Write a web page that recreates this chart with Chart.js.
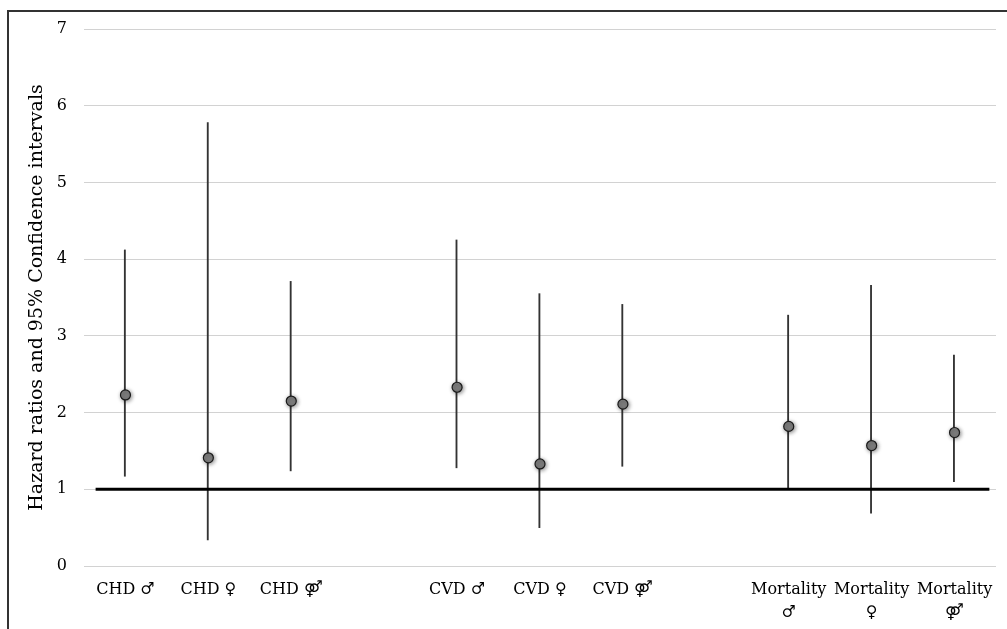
<!DOCTYPE html>
<html>
<head>
<meta charset="utf-8">
<script src="https://cdn.jsdelivr.net/npm/chart.js@4"></script>
<style>
  body { margin: 0; background: #fff; }
  #wrap { position: relative; width: 1007px; height: 629px; }
  #frame { position: absolute; left: 7px; top: 10px; right: 0; bottom: 0;
           border-left: 2px solid #333; border-top: 2px solid #333; }
  #myChart { position: absolute; left: 0; top: 0; }
</style>
</head>
<body>
<div id="wrap">
  <div id="frame"></div>
  <canvas id="myChart" width="1007" height="629"></canvas>
</div>
<script>
// Datos
const categories = ['CHD ♂', 'CHD ♀', 'CHD ⚤', '', 'CVD ♂', 'CVD ♀', 'CVD ⚤', '',
  ['Mortality', '♂'], ['Mortality', '♀'], ['Mortality', '⚤']];
const hazardRatios = [2.23, 1.41, 2.15, null, 2.33, 1.33, 2.11, null, 1.82, 1.57, 1.74];
const ciLower = [1.17, 0.34, 1.24, null, 1.28, 0.50, 1.30, null, 1.01, 0.69, 1.10];
const ciUpper = [4.12, 5.78, 3.71, null, 4.25, 3.55, 3.41, null, 3.27, 3.66, 2.75];
const refLineX = [-0.36, 10.42];
const refLineY = 1;

const serif = '"DejaVu Serif", "Liberation Serif", serif';

// Sombra para los puntos
const shadowPlugin = {
  id: 'pointShadow',
  beforeDatasetDraw(chart, args) {
    if (args.index !== 2) return;
    const ctx = chart.ctx;
    ctx.save();
    ctx.shadowColor = 'rgba(0,0,0,0.45)';
    ctx.shadowBlur = 4;
    ctx.shadowOffsetX = 1;
    ctx.shadowOffsetY = 1;
  },
  afterDatasetDraw(chart, args) {
    if (args.index !== 2) return;
    chart.ctx.restore();
  }
};

const config = {
  type: 'bar',
  data: {
    labels: categories,
    datasets: [
      {
        type: 'bar',
        label: 'CI',
        data: ciLower.map((l, i) => l === null ? null : [l, ciUpper[i]]),
        backgroundColor: '#333',
        borderWidth: 0,
        barThickness: 1.2,
        order: 3
      },
      {
        type: 'line',
        label: 'ref',
        xAxisID: 'x2',
        data: refLineX.map(x => ({ x: x, y: refLineY })),
        borderColor: '#000',
        borderWidth: 3,
        pointRadius: 0,
        order: 2
      },
      {
        type: 'line',
        label: 'HR',
        data: hazardRatios,
        showLine: false,
        pointRadius: 5,
        pointBackgroundColor: '#808080',
        pointBorderColor: '#1a1a1a',
        pointBorderWidth: 1.2,
        order: 1
      }
    ]
  },
  options: {
    responsive: false,
    animation: false,
    layout: { padding: { left: 8, top: 29, right: 11, bottom: 3 } },
    plugins: { legend: { display: false }, tooltip: { enabled: false } },
    scales: {
      x: {
        type: 'category',
        offset: true,
        grid: { display: false },
        border: { display: false },
        ticks: {
          color: '#000', font: { family: serif, size: 16, lineHeight: 1.45 },
          maxRotation: 0, autoSkip: false, padding: 4
        },
        afterFit: (s) => { s.height = 60; }
      },
      x2: {
        type: 'linear', display: false, offset: false, min: -0.5, max: 10.5
      },
      y: {
        min: 0, max: 7,
        grid: { color: '#d2d2d2', drawTicks: false },
        border: { display: false },
        ticks: { stepSize: 1, color: '#000', font: { family: serif, size: 16 }, padding: 17 },
        title: {
          display: true,
          text: 'Hazard ratios and 95% Confidence intervals',
          color: '#000',
          font: { family: serif, size: 19 },
          padding: { top: 18, bottom: 0 }
        },
        afterFit: (s) => { s.width = 76; }
      }
    }
  },
  plugins: [shadowPlugin]
};

new Chart(document.getElementById('myChart'), config);
</script>
</body>
</html>
